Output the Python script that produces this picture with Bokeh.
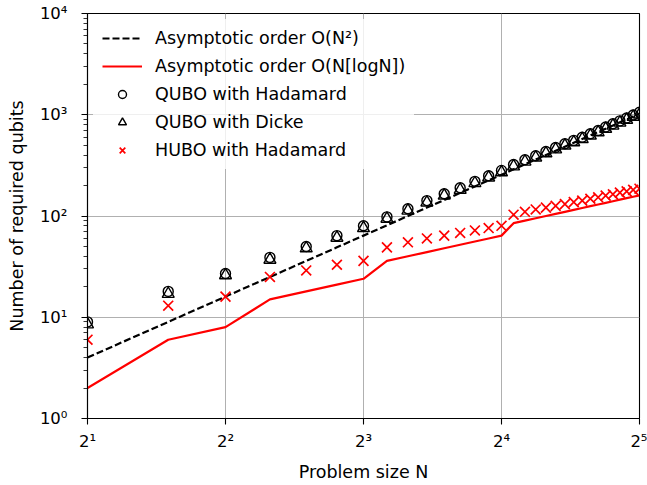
from bokeh.plotting import figure
from bokeh.models import Range1d, FixedTicker, Legend
from bokeh.embed import file_html
from bokeh.resources import INLINE

# ---- data ----
N = [2, 3, 4, 5, 6, 7, 8, 9, 10, 11, 12, 13, 14, 15, 16, 17, 18, 19, 20, 21, 22, 23, 24, 25, 26, 27, 28, 29, 30, 31, 32]
order_n2 = [4, 9, 16, 25, 36, 49, 64, 81, 100, 121, 144, 169, 196, 225, 256, 289, 324, 361, 400, 441, 484, 529, 576,
            625, 676, 729, 784, 841, 900, 961, 1024]
order_nlogn = [2, 6, 8, 15, 18, 21, 24, 36, 40, 44, 48, 52, 56, 60, 64, 85, 90, 95, 100, 105, 110, 115, 120, 125, 130,
               135, 140, 145, 150, 155, 160]
qubo_hadamard = [9, 18, 27, 39, 50, 64, 80, 98, 118, 142, 166, 190, 220, 250, 282, 323, 359, 394, 434, 475, 517, 558,
                 600, 650, 700, 757, 814, 870, 930, 995, 1060]
qubo_dicke = [8.5, 17, 26, 37, 48, 61, 76, 94, 113, 136, 159, 181, 211, 240, 270, 309, 344, 378, 416, 455, 496, 535,
              575, 623, 671, 726, 781, 835, 892, 955, 1005]
hubo_hadamard = [6, 13, 16, 25, 29, 33, 36, 49, 55, 60, 64, 68, 72, 76, 80, 103, 110, 116, 121, 126, 131, 137, 142,
                 148, 153, 159, 164, 170, 175, 181, 186]

x_ticks = [2, 4, 8, 16, 32]
x_tick_labels = ["2\u00b9", "2\u00b2", "2\u00b3", "2\u2074", "2\u2075"]
y_ticks = [1, 10, 100, 1000, 10000]
y_tick_labels = ["10\u2070", "10\u00b9", "10\u00b2", "10\u00b3", "10\u2074"]
y_minor = [m * d for d in [1, 10, 100, 1000] for m in range(2, 10)]

FONT = "DejaVu Sans"

p = figure(width=647, height=485, x_axis_type="log", y_axis_type="log",
           x_range=Range1d(2, 32), y_range=Range1d(1, 10000),
           output_backend="svg", toolbar_location=None, title_location=None,
           min_border_left=87, min_border_right=8, min_border_top=13, min_border_bottom=67)

p.background_fill_color = "white"
p.border_fill_color = "white"
p.outline_line_color = "black"
p.outline_line_width = 1.1

# axes
p.xaxis.ticker = FixedTicker(ticks=x_ticks, minor_ticks=[])
p.yaxis.ticker = FixedTicker(ticks=y_ticks, minor_ticks=y_minor)
p.xaxis.major_label_overrides = {float(t): l for t, l in zip(x_ticks, x_tick_labels)}
p.yaxis.major_label_overrides = {float(t): l for t, l in zip(y_ticks, y_tick_labels)}

for ax in (p.xaxis[0], p.yaxis[0]):
    ax.axis_line_color = "black"
    ax.axis_line_width = 1.1
    ax.major_tick_line_color = "black"
    ax.major_tick_line_width = 1.1
    ax.minor_tick_line_color = "black"
    ax.minor_tick_line_width = 0.8
    ax.major_tick_out = 6
    ax.major_tick_in = 0
    ax.minor_tick_out = 4
    ax.minor_tick_in = 0
    ax.major_label_text_font = FONT
    ax.major_label_text_font_size = "16.5px"
    ax.major_label_text_color = "black"
    ax.axis_label_text_font = FONT
    ax.axis_label_text_font_size = "17.5px"
    ax.axis_label_text_font_style = "normal"
    ax.axis_label_text_color = "black"

p.xaxis.axis_label = "Problem size N"
p.yaxis.axis_label = "Number of required qubits"
p.xaxis.major_label_standoff = 7
p.xaxis.axis_label_standoff = 8
p.yaxis.major_label_standoff = 14
p.yaxis.axis_label_standoff = 10

# grid
p.xgrid.grid_line_color = "#b0b0b0"
p.ygrid.grid_line_color = "#b0b0b0"
p.xgrid.grid_line_width = 1
p.ygrid.grid_line_width = 1
p.ygrid.minor_grid_line_color = None

# series
r1 = p.line(N, order_n2, line_color="black", line_width=2.2, line_dash="7 3")
r2 = p.line(N, order_nlogn, line_color="#ff0000", line_width=2.2)
r3 = p.scatter(N, qubo_hadamard, marker="circle", size=10, fill_color=None,
               line_color="black", line_width=1.4)
r4 = p.scatter(N, qubo_dicke, marker="triangle", size=12, fill_color=None,
               line_color="black", line_width=1.4)
r5 = p.scatter(N, hubo_hadamard, marker="x", size=14, line_color="#ff0000", line_width=1.7)

legend = Legend(items=[
    ("Asymptotic order O(N\u00b2)", [r1]),
    ("Asymptotic order O(N[logN])", [r2]),
    ("QUBO with Hadamard", [r3]),
    ("QUBO with Dicke", [r4]),
    ("HUBO with Hadamard", [r5]),
], location="top_left")
legend.label_text_font = FONT
legend.label_text_font_size = "17.5px"
legend.label_text_color = "black"
legend.background_fill_color = "white"
legend.background_fill_alpha = 0.8
legend.border_line_alpha = 0
legend.glyph_width = 40
legend.glyph_height = 20
legend.label_height = 20
legend.spacing = 8
legend.padding = 9
legend.margin = 6
legend.label_standoff = 13
p.add_layout(legend)

open("out.html", "w").write(file_html(p, INLINE))
